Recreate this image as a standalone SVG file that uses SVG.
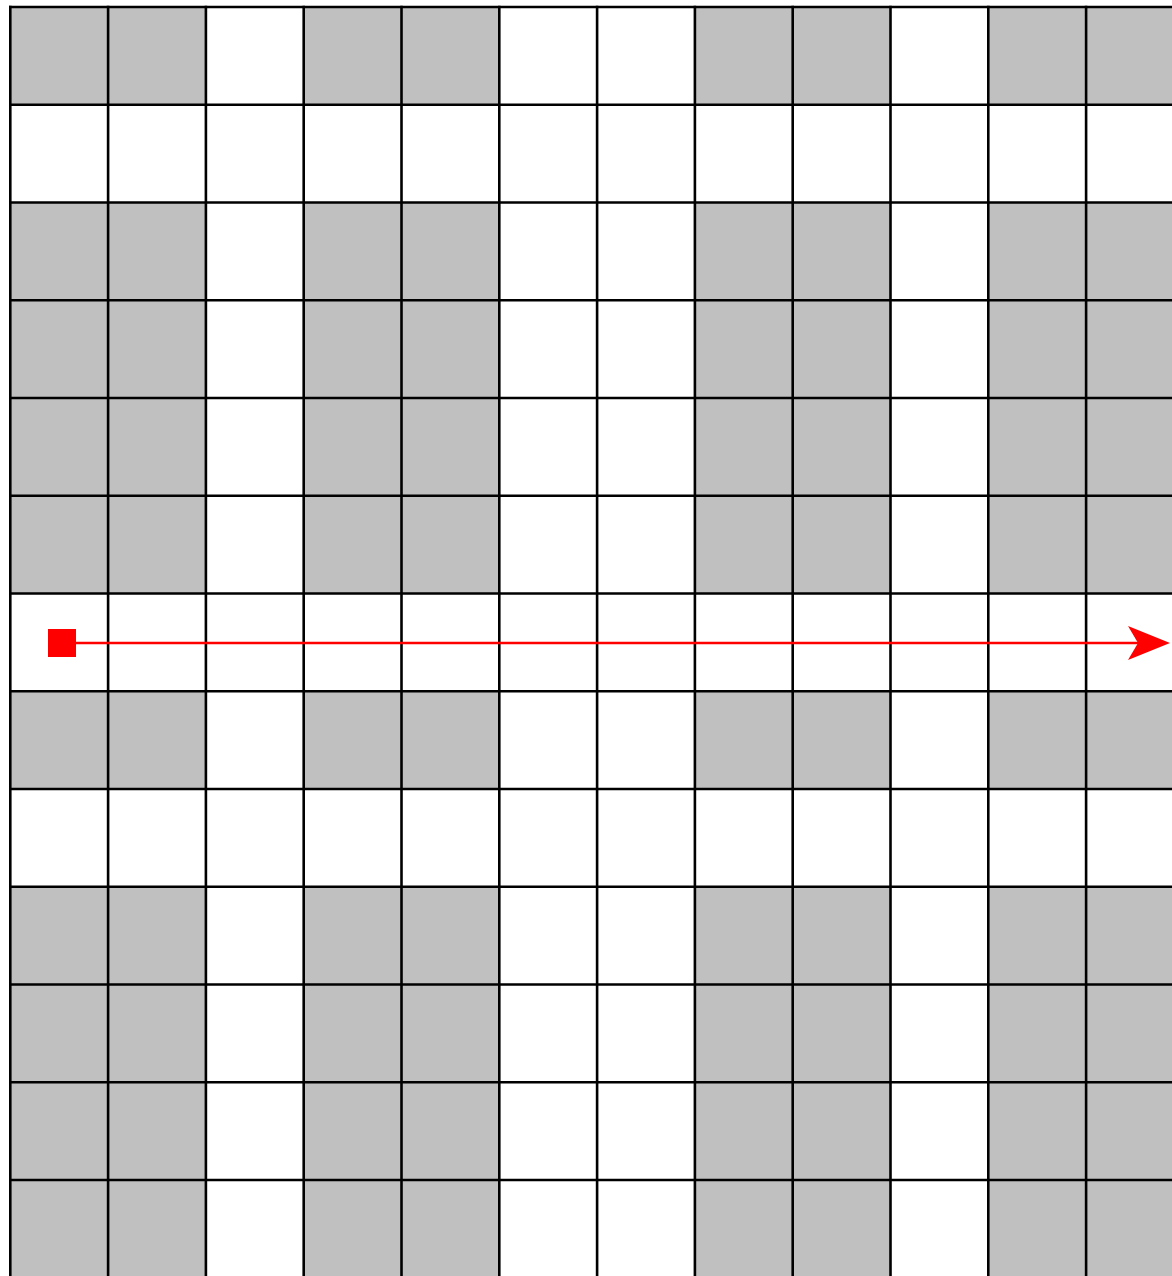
<svg xmlns="http://www.w3.org/2000/svg" width="1172" height="1276" viewBox="0 0 1172 1276">
  <style>
    .gray { fill: #c0c0c0; }
    .white { fill: #ffffff; }
    .grid line { stroke: #000000; stroke-width: 2.6; }
    .path { stroke: #ff0000; stroke-width: 2.4; fill: none; }
  </style>
  <defs>
    <marker id="arrow" markerUnits="userSpaceOnUse" markerWidth="44" markerHeight="36" refX="32" refY="17" orient="auto" overflow="visible">
      <path d="M0,0 L42,17 L0,34 L10,17 Z" fill="#ff0000"/>
    </marker>
    <marker id="start" markerUnits="userSpaceOnUse" markerWidth="30" markerHeight="30" refX="14" refY="14" orient="auto" overflow="visible">
      <rect x="0" y="0" width="28" height="28" fill="#ff0000"/>
    </marker>
  </defs>
  <rect x="0" y="0" width="1172" height="1276" fill="#ffffff"/>
  <g id="cells">
    <rect class="gray" x="10.3" y="7" width="195.6" height="1280"/>
    <rect class="gray" x="303.7" y="7" width="195.6" height="1280"/>
    <rect class="gray" x="694.9" y="7" width="195.6" height="1280"/>
    <rect class="gray" x="988.3" y="7" width="195.6" height="1280"/>
    <rect class="white" x="10.3" y="104.75" width="1180" height="97.75"/>
    <rect class="white" x="10.3" y="593.5" width="1180" height="97.75"/>
    <rect class="white" x="10.3" y="789" width="1180" height="97.75"/>
  </g>
  <g id="grid" class="grid">
    <line x1="10.3" y1="5.7" x2="10.3" y2="1280"/>
    <line x1="108.1" y1="5.7" x2="108.1" y2="1280"/>
    <line x1="205.9" y1="5.7" x2="205.9" y2="1280"/>
    <line x1="303.7" y1="5.7" x2="303.7" y2="1280"/>
    <line x1="401.5" y1="5.7" x2="401.5" y2="1280"/>
    <line x1="499.3" y1="5.7" x2="499.3" y2="1280"/>
    <line x1="597.1" y1="5.7" x2="597.1" y2="1280"/>
    <line x1="694.9" y1="5.7" x2="694.9" y2="1280"/>
    <line x1="792.7" y1="5.7" x2="792.7" y2="1280"/>
    <line x1="890.5" y1="5.7" x2="890.5" y2="1280"/>
    <line x1="988.3" y1="5.7" x2="988.3" y2="1280"/>
    <line x1="1086.1" y1="5.7" x2="1086.1" y2="1280"/>
    <line x1="9" y1="7" x2="1180" y2="7"/>
    <line x1="9" y1="104.75" x2="1180" y2="104.75"/>
    <line x1="9" y1="202.5" x2="1180" y2="202.5"/>
    <line x1="9" y1="300.25" x2="1180" y2="300.25"/>
    <line x1="9" y1="398" x2="1180" y2="398"/>
    <line x1="9" y1="495.75" x2="1180" y2="495.75"/>
    <line x1="9" y1="593.5" x2="1180" y2="593.5"/>
    <line x1="9" y1="691.25" x2="1180" y2="691.25"/>
    <line x1="9" y1="789" x2="1180" y2="789"/>
    <line x1="9" y1="886.75" x2="1180" y2="886.75"/>
    <line x1="9" y1="984.5" x2="1180" y2="984.5"/>
    <line x1="9" y1="1082.25" x2="1180" y2="1082.25"/>
    <line x1="9" y1="1180" x2="1180" y2="1180"/>
  </g>
  <g id="connectors">
    <line class="path" x1="62" y1="643" x2="1160" y2="643" marker-start="url(#start)" marker-end="url(#arrow)"/>
  </g>
</svg>
